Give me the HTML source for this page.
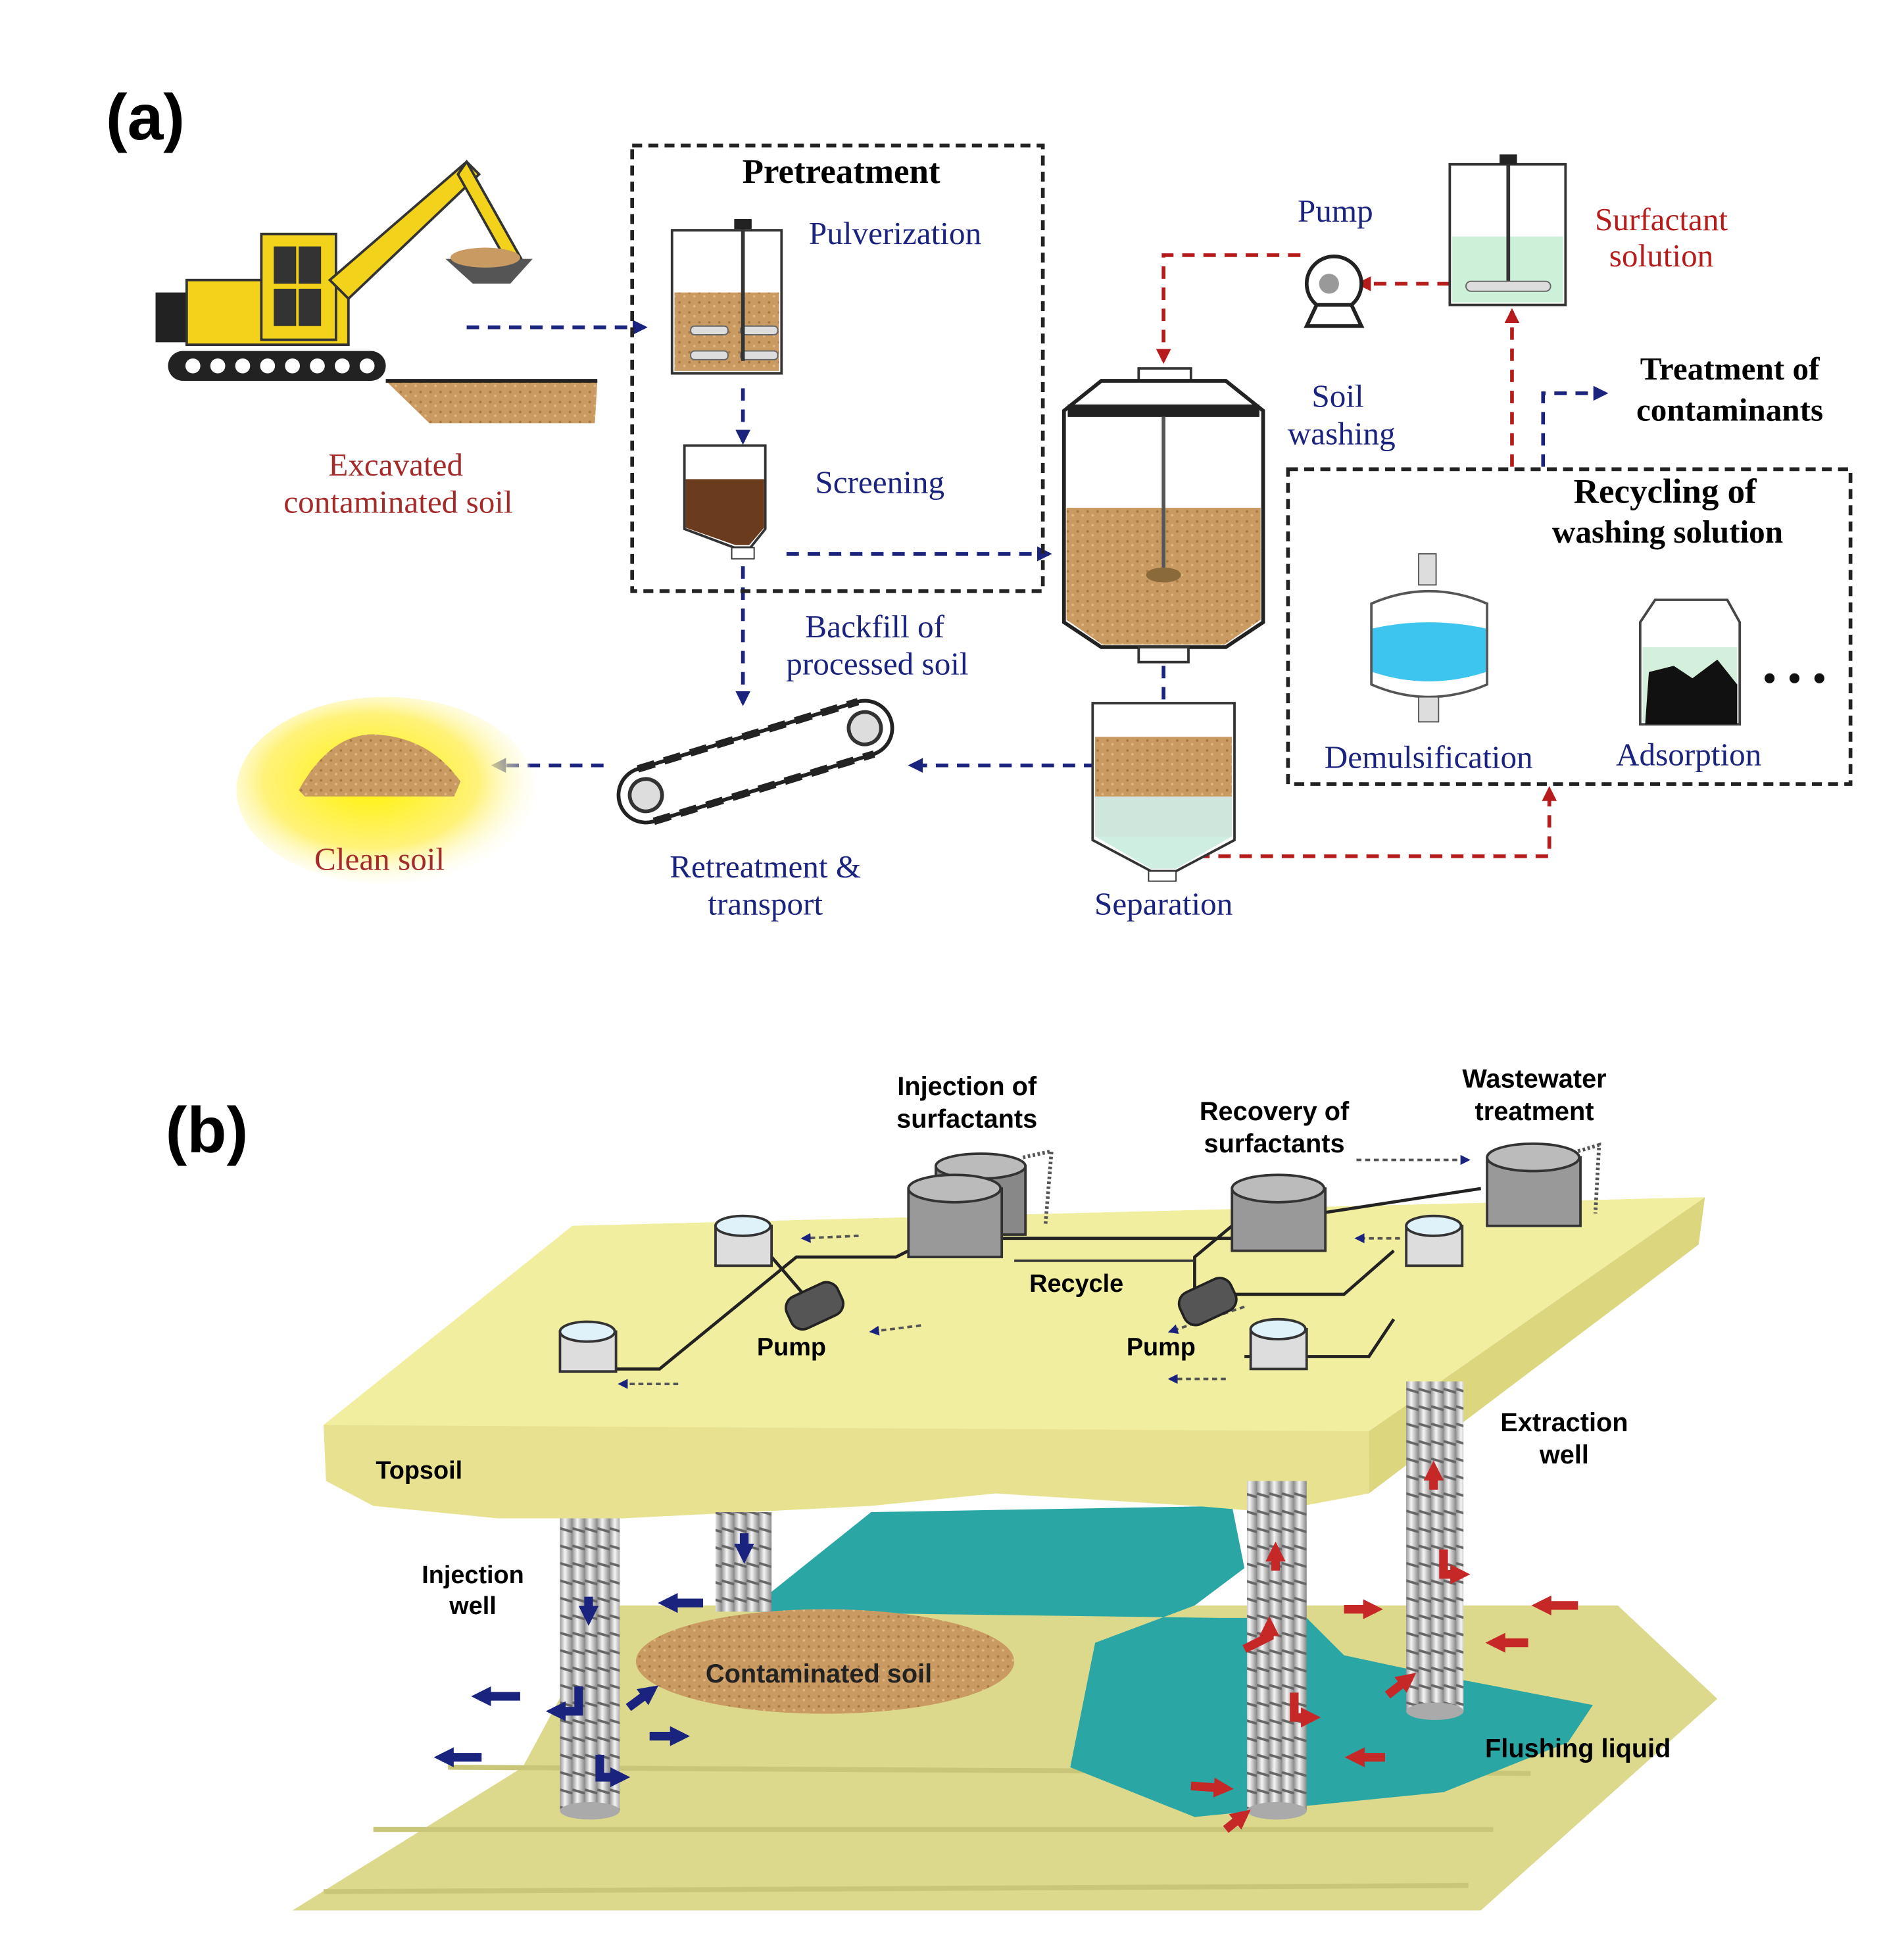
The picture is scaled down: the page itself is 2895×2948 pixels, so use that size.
<!DOCTYPE html>
<html><head><meta charset="utf-8"><style>
html,body{margin:0;padding:0;background:#fff}
svg{display:block}
.s{font-family:"Liberation Serif",serif}
.b{font-family:"Liberation Sans",sans-serif;font-weight:bold}
</style></head><body>
<svg width="2895" height="2948" viewBox="0 0 1530 1558" xmlns="http://www.w3.org/2000/svg">
<defs>
<radialGradient id="glow" cx="0.45" cy="0.45" r="0.6"><stop offset="0" stop-color="#fff200"/><stop offset="0.6" stop-color="#fff27a"/><stop offset="1" stop-color="#fff" stop-opacity="0"/></radialGradient>
<marker id="ab" markerUnits="userSpaceOnUse" viewBox="0 0 10 10" markerWidth="12" markerHeight="12" refX="8" refY="5" orient="auto"><path d="M0,0 L10,5 L0,10 z" fill="#1a237e"/></marker>
<marker id="ar" markerUnits="userSpaceOnUse" viewBox="0 0 10 10" markerWidth="12" markerHeight="12" refX="8" refY="5" orient="auto"><path d="M0,0 L10,5 L0,10 z" fill="#b71c1c"/></marker>
<marker id="as" markerUnits="userSpaceOnUse" viewBox="0 0 10 10" markerWidth="8" markerHeight="8" refX="8" refY="5" orient="auto"><path d="M0,0 L10,5 L0,10 z" fill="#1a237e"/></marker>
<marker id="abB" markerUnits="userSpaceOnUse" viewBox="0 0 10 10" markerWidth="16" markerHeight="16" refX="6" refY="5" orient="auto"><path d="M0,0 L10,5 L0,10 z" fill="#1a237e"/></marker>
<marker id="arB" markerUnits="userSpaceOnUse" viewBox="0 0 10 10" markerWidth="16" markerHeight="16" refX="6" refY="5" orient="auto"><path d="M0,0 L10,5 L0,10 z" fill="#c62828"/></marker>
<pattern id="soil" width="8" height="8" patternUnits="userSpaceOnUse"><rect width="8" height="8" fill="#c99a62"/><circle cx="2" cy="3" r="1" fill="#a87840"/><circle cx="6" cy="6" r="1" fill="#e0b880"/></pattern>
<linearGradient id="cyl" x1="0" x2="1"><stop offset="0" stop-color="#999"/><stop offset="0.4" stop-color="#f5f5f5"/><stop offset="1" stop-color="#888"/></linearGradient>
<pattern id="coil" width="10" height="14" patternUnits="userSpaceOnUse"><rect width="10" height="14" fill="url(#cyl)"/><path d="M0,10 L10,13" stroke="#666" stroke-width="2"/></pattern>
</defs>
<rect width="1530" height="1558" fill="#fff"/>
<text x="85" y="112" font-size="52" class="b">(a)</text>
<rect x="135" y="282" width="175" height="24" rx="12" fill="#222"/>
<g fill="#fff"><circle cx="155" cy="294" r="6"/><circle cx="175" cy="294" r="6"/><circle cx="195" cy="294" r="6"/><circle cx="215" cy="294" r="6"/><circle cx="235" cy="294" r="6"/><circle cx="255" cy="294" r="6"/><circle cx="275" cy="294" r="6"/><circle cx="295" cy="294" r="6"/></g>
<rect x="125" y="235" width="40" height="40" fill="#222"/>
<rect x="150" y="225" width="130" height="52" fill="#f2d21b" stroke="#333" stroke-width="2"/>
<rect x="210" y="188" width="60" height="85" fill="#f2d21b" stroke="#333" stroke-width="2"/>
<rect x="220" y="198" width="18" height="30" fill="#333"/><rect x="240" y="198" width="18" height="30" fill="#333"/>
<rect x="220" y="232" width="18" height="30" fill="#333"/><rect x="240" y="232" width="18" height="30" fill="#333"/>
<path d="M265,225 L375,130 L385,140 L280,240 z" fill="#f2d21b" stroke="#333" stroke-width="2"/>
<path d="M375,130 L420,210 L410,215 L368,140 z" fill="#f2d21b" stroke="#333" stroke-width="2"/>
<path d="M358,208 L428,208 L410,228 L380,228 z" fill="#555"/>
<ellipse cx="390" cy="207" rx="28" ry="8" fill="#c99a62"/>
<path d="M310,306 L480,306 L478,340 L345,340 z" fill="url(#soil)"/>
<line x1="310" y1="306" x2="480" y2="306" stroke="#222" stroke-width="3"/>
<text x="318" y="382" font-size="26" fill="#a52a2a" class="s" text-anchor="middle">Excavated</text>
<text x="320" y="412" font-size="26" fill="#a52a2a" class="s" text-anchor="middle">contaminated soil</text>
<g stroke="#1a237e" stroke-width="3" stroke-dasharray="10,7" fill="none" marker-end="url(#ab)">
<line x1="375" y1="263" x2="518" y2="263"/>
<line x1="597" y1="312" x2="597" y2="355"/>
<line x1="632" y1="445" x2="843" y2="445"/>
<line x1="597" y1="455" x2="597" y2="565"/>
<line x1="935" y1="535" x2="935" y2="585"/>
<line x1="915" y1="615" x2="732" y2="615"/>
<line x1="485" y1="615" x2="397" y2="615"/>
<polyline points="1240,375 1240,316 1290,316"/>
</g>
<g stroke="#b71c1c" stroke-width="3" stroke-dasharray="10,7" fill="none" marker-end="url(#ar)">
<polyline points="1165,228 1092,228"/>
<polyline points="1045,205 935,205 935,290"/>
<polyline points="1215,375 1215,250"/>
<polyline points="945,688 1245,688 1245,634"/>
</g>
<rect x="508" y="117" width="330" height="358" fill="none" stroke="#222" stroke-width="3" stroke-dasharray="8,5"/>
<text x="676" y="147" font-size="28" class="s" font-weight="bold" text-anchor="middle">Pretreatment</text>
<rect x="540" y="185" width="88" height="115" fill="#fff" stroke="#333" stroke-width="2"/>
<rect x="542" y="235" width="84" height="63" fill="url(#soil)"/>
<rect x="555" y="262" width="30" height="7" rx="3" fill="#ddd" stroke="#666"/><rect x="595" y="262" width="30" height="7" rx="3" fill="#ddd" stroke="#666"/>
<rect x="555" y="282" width="30" height="7" rx="3" fill="#ddd" stroke="#666"/><rect x="595" y="282" width="30" height="7" rx="3" fill="#ddd" stroke="#666"/>
<line x1="597" y1="180" x2="597" y2="290" stroke="#333" stroke-width="3"/>
<rect x="590" y="176" width="14" height="8" fill="#222"/>
<text x="650" y="196" font-size="26" fill="#1a237e" class="s">Pulverization</text>
<path d="M550,358 L615,358 L615,425 L603,440 L590,440 L550,425 z" fill="#fff" stroke="#333" stroke-width="2"/>
<path d="M551,385 L614,385 L614,424 L602,438 L591,438 L551,424 z" fill="#6b3b1e"/>
<rect x="588" y="440" width="18" height="9" fill="#fff" stroke="#333"/>
<text x="655" y="396" font-size="26" fill="#1a237e" class="s">Screening</text>
<text x="703" y="512" font-size="26" fill="#1a237e" class="s" text-anchor="middle">Backfill of</text>
<text x="705" y="542" font-size="26" fill="#1a237e" class="s" text-anchor="middle">processed soil</text>
<rect x="915" y="296" width="42" height="10" fill="#fff" stroke="#333" stroke-width="2"/>
<path d="M855,330 L885,306 L985,306 L1015,330 L1015,500 L985,520 L885,520 L855,500 z" fill="#fff" stroke="#222" stroke-width="3"/>
<path d="M857,408 L1013,408 L1013,498 L984,518 L886,518 L857,498 z" fill="url(#soil)"/>
<rect x="858" y="325" width="154" height="10" fill="#222"/>
<line x1="935" y1="335" x2="935" y2="465" stroke="#555" stroke-width="3"/>
<ellipse cx="935" cy="462" rx="14" ry="6" fill="#8a6a3a"/>
<rect x="915" y="520" width="40" height="12" fill="#fff" stroke="#333" stroke-width="2"/>
<text x="1075" y="327" font-size="26" fill="#1a237e" class="s" text-anchor="middle">Soil</text>
<text x="1078" y="357" font-size="26" fill="#1a237e" class="s" text-anchor="middle">washing</text>
<circle cx="1072" cy="228" r="22" fill="#fff" stroke="#222" stroke-width="3"/>
<circle cx="1068" cy="228" r="8" fill="#999"/>
<path d="M1050,262 L1094,262 L1086,245 L1058,245 z" fill="#fff" stroke="#222" stroke-width="3"/>
<text x="1073" y="178" font-size="26" fill="#1a237e" class="s" text-anchor="middle">Pump</text>
<rect x="1165" y="132" width="93" height="113" fill="#fff" stroke="#333" stroke-width="2"/>
<rect x="1167" y="190" width="89" height="53" fill="#ccf0d8"/>
<line x1="1212" y1="128" x2="1212" y2="232" stroke="#333" stroke-width="3"/>
<rect x="1205" y="124" width="14" height="8" fill="#222"/>
<rect x="1178" y="226" width="68" height="8" rx="4" fill="#ddd" stroke="#666"/>
<text x="1335" y="185" font-size="26" fill="#b71c1c" class="s" text-anchor="middle">Surfactant</text>
<text x="1335" y="214" font-size="26" fill="#b71c1c" class="s" text-anchor="middle">solution</text>
<text x="1390" y="305" font-size="26" class="s" font-weight="bold" text-anchor="middle">Treatment of</text>
<text x="1390" y="338" font-size="26" class="s" font-weight="bold" text-anchor="middle">contaminants</text>
<rect x="1035" y="377" width="452" height="253" fill="none" stroke="#222" stroke-width="3" stroke-dasharray="8,5"/>
<text x="1338" y="404" font-size="28" class="s" font-weight="bold" text-anchor="middle">Recycling of</text>
<text x="1340" y="436" font-size="26" class="s" font-weight="bold" text-anchor="middle">washing solution</text>
<rect x="1140" y="445" width="14" height="25" fill="#ddd" stroke="#555"/>
<path d="M1102,485 Q1148,465 1195,485 L1195,550 Q1148,570 1102,550 z" fill="#fff" stroke="#555" stroke-width="2"/>
<path d="M1103,505 Q1148,495 1194,505 L1194,540 Q1148,555 1103,540 z" fill="#3ec5ef"/>
<rect x="1140" y="560" width="16" height="20" fill="#ddd" stroke="#555"/>
<text x="1148" y="617" font-size="26" fill="#1a237e" class="s" text-anchor="middle">Demulsification</text>
<path d="M1318,500 L1330,482 L1388,482 L1398,500 L1398,582 L1318,582 z" fill="#fff" stroke="#444" stroke-width="2"/>
<rect x="1320" y="520" width="76" height="60" fill="#d4f0dc"/>
<path d="M1322,582 L1325,540 L1345,535 L1360,545 L1380,530 L1396,550 L1396,582 z" fill="#111"/>
<text x="1357" y="615" font-size="26" fill="#1a237e" class="s" text-anchor="middle">Adsorption</text>
<circle cx="1422" cy="545" r="4" fill="#111"/><circle cx="1442" cy="545" r="4" fill="#111"/><circle cx="1462" cy="545" r="4" fill="#111"/>
<path d="M878,565 L992,565 L992,675 L945,700 L925,700 L878,675 z" fill="#fff" stroke="#333" stroke-width="2"/>
<rect x="880" y="592" width="110" height="48" fill="url(#soil)"/>
<rect x="880" y="640" width="110" height="32" fill="#cfe6dc"/>
<path d="M880,672 L990,672 L945,698 L925,698 z" fill="#cdeee0"/>
<rect x="923" y="700" width="22" height="8" fill="#fff" stroke="#333"/>
<text x="935" y="735" font-size="26" fill="#1a237e" class="s" text-anchor="middle">Separation</text>
<g transform="rotate(-17 607 612)">
<rect x="493" y="590" width="228" height="44" rx="22" fill="#fff" stroke="#222" stroke-width="3"/>
<line x1="515" y1="590" x2="700" y2="590" stroke="#222" stroke-width="6" stroke-dasharray="14,8"/>
<line x1="515" y1="634" x2="700" y2="634" stroke="#222" stroke-width="6" stroke-dasharray="14,8"/>
<circle cx="515" cy="612" r="13" fill="#ddd" stroke="#333" stroke-width="3"/>
<circle cx="699" cy="612" r="13" fill="#ddd" stroke="#333" stroke-width="3"/>
</g>
<text x="615" y="705" font-size="26" fill="#1a237e" class="s" text-anchor="middle">Retreatment &amp;</text>
<text x="615" y="735" font-size="26" fill="#1a237e" class="s" text-anchor="middle">transport</text>
<ellipse cx="310" cy="635" rx="120" ry="75" fill="url(#glow)"/>
<path d="M240,635 Q265,590 300,590 Q345,592 370,628 L365,640 L245,640 z" fill="url(#soil)"/>
<text x="305" y="699" font-size="26" fill="#a52a2a" class="s" text-anchor="middle">Clean soil</text>

<text x="133" y="926" font-size="52" class="b">(b)</text>
<path d="M235,1535 L420,1420 L490,1290 L1300,1290 L1380,1365 L1190,1535 z" fill="#dcd98c"/>
<path d="M260,1520 L1180,1515 M300,1470 L1200,1470 M360,1420 L1230,1425" stroke="#c9c67a" stroke-width="4" fill="none"/>
<path d="M600,1295 L700,1215 L990,1210 L1000,1260 L960,1290 L880,1320 L860,1420 L960,1460 L1160,1440 L1260,1400 L1280,1370 L1150,1345 L1080,1330 L1050,1300 L1000,1300 L980,1300 Z" fill="#2aa7a5"/>
<ellipse cx="663" cy="1335" rx="152" ry="42" fill="url(#soil)"/>
<text x="658" y="1352" font-size="21" class="b" text-anchor="middle" fill="#222">Contaminated soil</text>
<path d="M260,1145 L460,985 L1370,962 L1100,1145 L1100,1200 L1020,1215 L960,1210 L800,1200 L700,1210 L500,1220 L400,1220 L300,1210 L262,1190 z" fill="#e8e290"/>
<path d="M260,1145 L460,985 L1370,962 L1100,1150 z" fill="#f2ee9f"/>
<path d="M1100,1150 L1370,962 L1365,1000 L1100,1200 z" fill="#dcd67e"/>
<text x="302" y="1188" font-size="20" class="b">Topsoil</text>
<g stroke="#222" stroke-width="2.5" fill="none">
<polyline points="470,1100 530,1100 640,1010 720,1010 770,985"/>
<polyline points="620,1010 650,1045"/>
<polyline points="990,985 960,1010 960,1040 1080,1040 1120,1005"/>
<polyline points="1000,1090 1100,1090 1120,1060"/>
<polyline points="1060,975 1190,955"/>
<line x1="800" y1="995" x2="990" y2="995"/>
</g>
<g stroke="#555" stroke-width="2" stroke-dasharray="4,3" fill="none" marker-end="url(#as)">
<line x1="690" y1="993" x2="645" y2="995"/>
<line x1="740" y1="1065" x2="700" y2="1070"/>
<line x1="545" y1="1112" x2="498" y2="1112"/>
<line x1="1125" y1="995" x2="1090" y2="995"/>
<line x1="1000" y1="1050" x2="940" y2="1070"/>
<line x1="985" y1="1108" x2="940" y2="1108"/>
<line x1="1090" y1="932" x2="1180" y2="932"/>
</g>
<rect x="815" y="1012" width="145" height="2" fill="#333"/>
<text x="865" y="1038" font-size="20" class="b" text-anchor="middle">Recycle</text>
<g fill="#ddd" stroke="#333" stroke-width="2">
<rect x="575" y="985" width="45" height="32"/><ellipse cx="597" cy="985" rx="22" ry="8" fill="#dff2fa"/>
<rect x="450" y="1070" width="45" height="32"/><ellipse cx="472" cy="1070" rx="22" ry="8" fill="#dff2fa"/>
<rect x="1130" y="985" width="45" height="32"/><ellipse cx="1152" cy="985" rx="22" ry="8" fill="#dff2fa"/>
<rect x="1005" y="1068" width="45" height="32"/><ellipse cx="1027" cy="1068" rx="22" ry="8" fill="#dff2fa"/>
</g>
<g stroke="#333" stroke-width="2">
<rect x="752" y="937" width="72" height="55" fill="#888"/><ellipse cx="788" cy="937" rx="36" ry="10" fill="#bbb"/>
<rect x="730" y="955" width="75" height="55" fill="#999"/><ellipse cx="767" cy="955" rx="37" ry="11" fill="#bbb"/>
<rect x="990" y="955" width="75" height="50" fill="#999"/><ellipse cx="1027" cy="955" rx="37" ry="11" fill="#bbb"/>
<rect x="1195" y="930" width="75" height="55" fill="#999"/><ellipse cx="1232" cy="930" rx="37" ry="11" fill="#bbb"/>
</g>
<path d="M822,930 L845,925 L840,985 M1268,925 L1285,920 L1282,975" stroke="#555" stroke-width="3" fill="none" stroke-dasharray="2,2"/>
<g stroke="#222" stroke-width="2" fill="#555">
<rect x="632" y="1035" width="45" height="28" rx="10" transform="rotate(-25 655 1049)"/>
<rect x="948" y="1032" width="45" height="28" rx="10" transform="rotate(-25 970 1046)"/>
</g>
<text x="636" y="1089" font-size="20" class="b" text-anchor="middle">Pump</text>
<text x="933" y="1089" font-size="20" class="b" text-anchor="middle">Pump</text>
<text x="777" y="880" font-size="21" class="b" text-anchor="middle">Injection of</text>
<text x="777" y="906" font-size="21" class="b" text-anchor="middle">surfactants</text>
<text x="1024" y="900" font-size="21" class="b" text-anchor="middle">Recovery of</text>
<text x="1024" y="926" font-size="21" class="b" text-anchor="middle">surfactants</text>
<text x="1233" y="874" font-size="21" class="b" text-anchor="middle">Wastewater</text>
<text x="1233" y="900" font-size="21" class="b" text-anchor="middle">treatment</text>
<rect x="450" y="1220" width="48" height="235" fill="url(#coil)"/><ellipse cx="474" cy="1455" rx="24" ry="7" fill="#aaa"/>
<rect x="575" y="1215" width="45" height="80" fill="url(#coil)"/>
<rect x="1002" y="1190" width="48" height="265" fill="url(#coil)"/><ellipse cx="1026" cy="1455" rx="24" ry="7" fill="#aaa"/>
<rect x="1130" y="1110" width="46" height="265" fill="url(#coil)"/><ellipse cx="1153" cy="1375" rx="23" ry="7" fill="#aaa"/>
<text x="380" y="1272" font-size="20" class="b" text-anchor="middle">Injection</text>
<text x="380" y="1297" font-size="20" class="b" text-anchor="middle">well</text>
<text x="1257" y="1150" font-size="21" class="b" text-anchor="middle">Extraction</text>
<text x="1257" y="1176" font-size="21" class="b" text-anchor="middle">well</text>
<text x="1268" y="1412" font-size="21" class="b" text-anchor="middle">Flushing liquid</text>
<g stroke="#1a237e" stroke-width="7" fill="none" marker-end="url(#abB)">
<line x1="473" y1="1283" x2="473" y2="1300"/>
<line x1="598" y1="1232" x2="598" y2="1250"/>
<line x1="565" y1="1288" x2="535" y2="1288"/>
<line x1="418" y1="1363" x2="385" y2="1363"/>
<line x1="387" y1="1412" x2="355" y2="1412"/>
<line x1="522" y1="1395" x2="548" y2="1395"/>
<line x1="505" y1="1372" x2="524" y2="1358"/>
<path d="M465,1355 L465,1375 L445,1375"/>
<path d="M482,1410 L482,1428 L500,1428"/>
</g>
<g stroke="#c62828" stroke-width="7" fill="none" marker-end="url(#arB)">
<line x1="1025" y1="1262" x2="1025" y2="1245"/>
<line x1="1152" y1="1197" x2="1152" y2="1180"/>
<line x1="1080" y1="1293" x2="1105" y2="1293"/>
<line x1="1268" y1="1290" x2="1237" y2="1290"/>
<line x1="1228" y1="1320" x2="1200" y2="1320"/>
<line x1="1113" y1="1412" x2="1087" y2="1412"/>
<line x1="957" y1="1435" x2="985" y2="1437"/>
<line x1="985" y1="1470" x2="1000" y2="1458"/>
<line x1="1115" y1="1362" x2="1133" y2="1348"/>
<path d="M1000,1325 L1020,1315 L1020,1305"/>
<path d="M1040,1360 L1040,1380 L1055,1380"/>
<path d="M1160,1245 L1160,1265 L1175,1265"/>
</g>
</svg>
</body></html>
